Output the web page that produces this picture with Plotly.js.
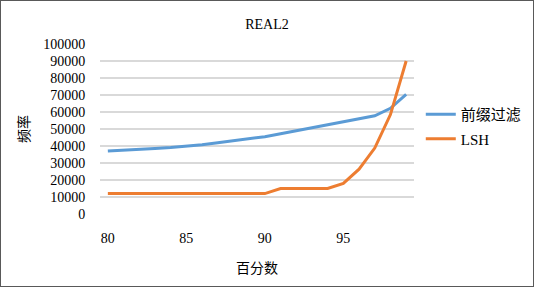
<!DOCTYPE html>
<html>
<head>
<meta charset="utf-8">
<script src="https://cdn.plot.ly/plotly-3.0.1.min.js"></script>
<style>
html,body{margin:0;padding:0;background:#fff;}
#wrap{position:relative;width:534px;height:287px;}
#chart{position:absolute;left:0;top:0;width:534px;height:287px;}
#frame{position:absolute;left:0;top:0;width:534px;height:287px;box-sizing:border-box;border:1px solid #595959;pointer-events:none;}
</style>
</head>
<body>
<div id="wrap"><div id="chart"></div><div id="frame"></div></div>
<script>
const percent = [80,81,82,83,84,85,86,87,88,89,90,91,92,93,94,95,96,97,98,99];
const prefixFilter = [37000,37400,37900,38500,39100,39800,40800,41900,43000,44200,45500,47200,48900,50600,52300,54000,55900,57800,62200,70400];
const lsh = [12000,12000,12000,12000,12000,12000,12000,12000,12000,12000,12000,15000,15000,15000,15000,18000,26400,38800,58500,90000];
const seriesNames = ['前缀过滤','LSH'];
const xTicks = [80,85,90,95];
const yTicks = [0,10000,20000,30000,40000,50000,60000,70000,80000,90000,100000];
const chartTitle = 'REAL2';
const xTitle = '百分数';
const yTitle = '频率';

const FONT = '"Liberation Serif", "Noto Sans CJK SC", serif';

const traces = [
  {x: percent, y: prefixFilter, name: seriesNames[0], legendgroup: 'a', type: 'scatter', mode: 'lines',
   line: {color: '#5b9bd5', width: 3}},
  {x: percent, y: lsh, name: seriesNames[1], legendgroup: 'b', type: 'scatter', mode: 'lines',
   line: {color: '#ed7d31', width: 3}}
];

const layout = {
  width: 534, height: 287,
  margin: {l: 100, r: 120, t: 44, b: 73},
  paper_bgcolor: '#fff', plot_bgcolor: '#fff',
  font: {family: FONT, size: 14, color: '#000'},
  title: {text: chartTitle, x: 0.5, xanchor: 'center', y: 1, yanchor: 'top', pad: {t: 19},
          font: {family: FONT, size: 14, color: '#000'}},
  xaxis: {
    range: [79.5, 99.5], tickmode: 'array', tickvals: xTicks, ticktext: xTicks.map(String),
    showgrid: false, zeroline: false, showline: false,
    ticks: 'outside', ticklen: 11, tickcolor: 'rgba(0,0,0,0)',
    tickfont: {family: FONT, size: 14, color: '#000'},
    title: {text: xTitle, standoff: 18, font: {family: FONT, size: 14, color: '#000'}},
    fixedrange: true
  },
  yaxis: {
    range: [0, 100000], tickmode: 'array', tickvals: yTicks, ticktext: yTicks.map(String),
    showgrid: true, gridcolor: '#d9d9d9', gridwidth: 1.3, zeroline: false, showline: false,
    ticks: 'outside', ticklen: 11, tickcolor: 'rgba(0,0,0,0)',
    tickfont: {family: FONT, size: 14, color: '#000'},
    title: {text: yTitle, standoff: 10, font: {family: FONT, size: 14, color: '#000'}},
    fixedrange: true
  },
  showlegend: true,
  legend: {xref: 'container', yref: 'container', x: 0.788, xanchor: 'left', y: 0.559, yanchor: 'middle',
           traceorder: 'grouped',
           font: {family: FONT, size: 15, color: '#000'}, tracegroupgap: 2,
           bgcolor: 'rgba(0,0,0,0)'}
};

Plotly.newPlot('chart', traces, layout, {staticPlot: true, displayModeBar: false});
</script>
</body>
</html>
